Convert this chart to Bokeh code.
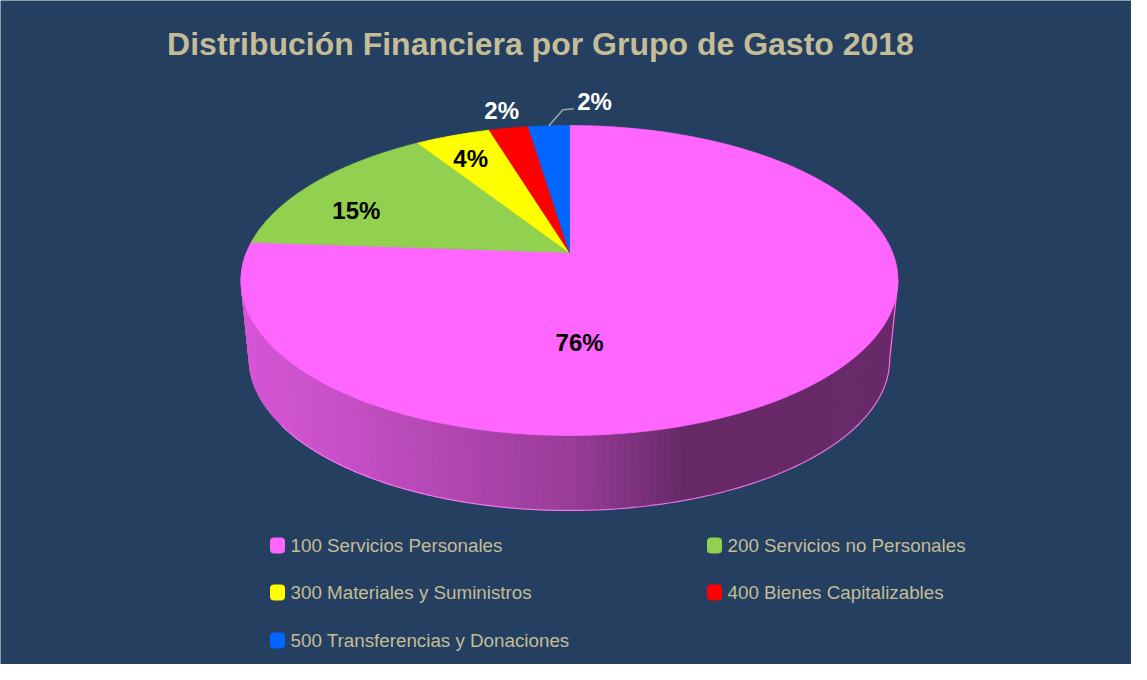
import numpy as np
from bokeh.plotting import figure
from bokeh.models import Range1d
from bokeh.embed import file_html
from bokeh.resources import INLINE
from bokeh.core.properties import value

# ---------------- data ----------------
title = "Distribución Financiera por Grupo de Gasto 2018"
codes = ["100", "200", "300", "400", "500"]
names = ["Servicios Personales", "Servicios no Personales", "Materiales y Suministros",
         "Bienes Capitalizables", "Transferencias y Donaciones"]
code_gap = ["   ", "   ", "  ", "  ", "  "]
shares = [76.1, 14.8, 4.4, 2.3, 2.4]          # percent of total
colors = ["#FF66FF", "#92D050", "#FFFF00", "#FF0000", "#0066FF"]

# ---------------- layout / styles ----------------
BG = "#243F60"
TAN = "#C4BD97"
FONT = "Liberation Sans"
W, H = 1131, 664
X0, Y0 = 0, 0
CX, CY, R, S, K = 569.0, 252.0, 323.0, 149.9, 0.1806
DEPTH, SHRINK = 79.6, 0.975
# label anchor (angle in degrees clockwise from top, radius fraction), colour
label_anchor = [(177.0, 0.54), (293.0, 0.755), (334.0, 0.787), (347.5, 1.17), (4.4, 1.235)]
label_color = ["black", "black", "black", "white", "white"]
LABEL_SIZE = 24
TITLE_SIZE = 32
LEG_SIZE = 18.8
leg_col_x = [270, 707]
leg_row_y = [545, 592, 640]


def proj(theta_deg, r=1.0, bottom=False):
    t = np.radians(np.asarray(theta_deg, dtype=float))
    u = r * np.sin(t)
    v = r * np.cos(t)
    d = 1.0 + K * v
    if bottom:
        return CX + R * SHRINK * u / d, CY + DEPTH - S * SHRINK * v / d
    return CX + R * u / d, CY - S * v / d


def shade(hexcol, f):
    h = hexcol.lstrip("#")
    rgb = [int(h[i:i + 2], 16) for i in (0, 2, 4)]
    return "#%02x%02x%02x" % tuple(int(max(0, min(255, round(c * f)))) for c in rgb)


total = float(sum(shares))
cum = np.concatenate([[0.0], np.cumsum(shares)]) / total * 360.0
starts, ends = cum[:-1], cum[1:]


def slice_at(theta):
    th = theta % 360.0
    for i in range(len(shares)):
        if starts[i] <= th < ends[i]:
            return i
    return len(shares) - 1


p = figure(width=W, height=H, x_range=Range1d(X0, X0 + W), y_range=Range1d(Y0 + H, Y0),
           output_backend="svg", toolbar_location=None, min_border=0)
p.axis.visible = False
p.grid.visible = False
p.background_fill_color = BG
p.border_fill_color = BG
p.outline_line_color = None

# ---------------- side wall (front half, shaded strips) ----------------
xs_side, ys_side, c_side = [], [], []
step = 1.0
xl, _ = proj(259.6)
xr, _ = proj(100.4)
for a in np.arange(90.0, 270.0, step):
    tx, ty = proj([a, a + step])
    bx, by = proj([a + step, a], bottom=True)
    xs_side.append(list(tx) + list(bx))
    ys_side.append(list(ty) + list(by))
    xm = float(np.mean(tx))
    t = (xm - xl) / (xr - xl)
    f = float(np.interp(t, [0.0, 0.15, 0.5, 0.68, 1.0], [0.84, 0.78, 0.6, 0.4, 0.41]))
    c_side.append(shade(colors[slice_at(a + step / 2)], f))
p.patches(xs=xs_side, ys=ys_side, fill_color=c_side, line_color=c_side, line_width=1)

# bottom rim highlight
arc = np.linspace(100.4, 235.0, 200)
bx, by = proj(arc, bottom=True)
tx_r, ty_r = proj(100.4)
p.line(x=[tx_r] + list(bx), y=[ty_r] + list(by), line_color="#FF80FF", line_width=1.2, line_alpha=0.85)

# ---------------- top face wedges ----------------
xs_top, ys_top = [], []
for s0, s1 in zip(starts, ends):
    a = np.linspace(s0, s1, max(3, int((s1 - s0) * 2)))
    ax, ay = proj(a)
    xs_top.append([CX] + list(ax))
    ys_top.append([CY] + list(ay))
p.patches(xs=xs_top, ys=ys_top, fill_color=colors, line_color=colors, line_width=0.8)

# ---------------- data labels ----------------
lab_x, lab_y = [], []
for ang, rr in label_anchor:
    x, y = proj(ang, rr)
    lab_x.append(float(x))
    lab_y.append(float(y) + 0.358 * LABEL_SIZE - 8.5)
lab_txt = ["%.0f%%" % s for s in shares]
p.text(x=lab_x, y=lab_y, text=lab_txt, text_color=label_color, text_align="center",
       text_baseline="alphabetic", text_font=value(FONT), text_font_style="bold",
       text_font_size="%dpx" % LABEL_SIZE)

# leader line for last slice
mid_last = (starts[-1] + ends[-1]) / 2
lx0, ly0 = proj(mid_last, 1.0)
p.line(x=[lx0, lx0 + 14, lx0 + 25], y=[ly0, ly0 - 16, ly0 - 17], line_color="#A6A6A6", line_width=1.5)

# ---------------- title ----------------
p.text(x=[540], y=[43.5], text=[title], text_color=TAN, text_align="center", text_baseline="alphabetic",
       text_font=value(FONT), text_font_style="bold", text_font_size="%dpx" % TITLE_SIZE)

# ---------------- legend ----------------
sq_x, sq_y, tx_x, tx_y, leg_txt = [], [], [], [], []
for i, (c, n) in enumerate(zip(codes, names)):
    col, row = i % 2, i // 2
    sq_x.append(leg_col_x[col] + 7)
    sq_y.append(leg_row_y[row])
    tx_x.append(leg_col_x[col] + 20)
    tx_y.append(leg_row_y[row] + 6.6 - 7)
    leg_txt.append(c + code_gap[i] + n)
try:
    p.rect(x=sq_x, y=sq_y, width=14, height=15, fill_color=colors, line_color=colors, border_radius=3)
except Exception:
    p.rect(x=sq_x, y=sq_y, width=14, height=15, fill_color=colors, line_color=colors)
p.text(x=tx_x, y=tx_y, text=leg_txt, text_color=TAN, text_align="left", text_baseline="alphabetic",
       text_font=value(FONT), text_font_size="%.1fpx" % LEG_SIZE)

open("out.html", "w").write(file_html(p, INLINE))
